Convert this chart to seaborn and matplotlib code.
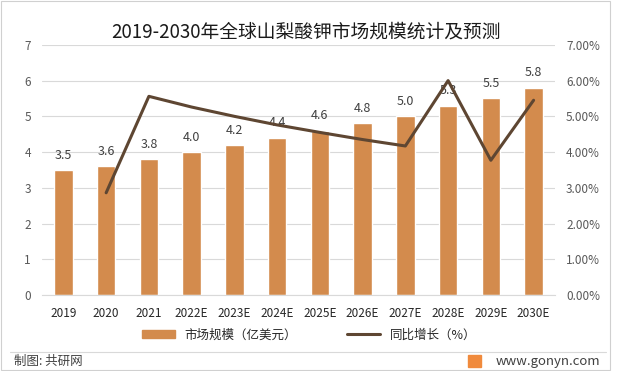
import numpy as np
import matplotlib.pyplot as plt
import matplotlib.patches as mpatches
from matplotlib.lines import Line2D
from matplotlib.ticker import PercentFormatter
import pandas as pd
import seaborn as sns

years = ["2019", "2020", "2021", "2022E", "2023E", "2024E", "2025E",
         "2026E", "2027E", "2028E", "2029E", "2030E"]
market = [3.5, 3.6, 3.8, 4.0, 4.2, 4.4, 4.6, 4.8, 5.0, 5.3, 5.5, 5.8]
growth_years = years[1:]
growth = [2.86, 5.56, 5.26, 5.00, 4.76, 4.55, 4.35, 4.17, 6.00, 3.77, 5.45]

bar_color = "#D38B4D"
line_color = "#5E4632"
txt = "#595959"

sns.set_style("white")
plt.rcParams["font.family"] = ["Noto Sans CJK SC", "DejaVu Sans"]

df = pd.DataFrame({"year": years, "market": market})
gdf = pd.DataFrame({"pos": [years.index(y) for y in growth_years], "growth": growth})

fig = plt.figure(figsize=(6.18, 3.71), dpi=100)
ax = fig.add_axes([0.068, 0.205, 0.83, 0.674])

sns.barplot(data=df, x="year", y="market", color=bar_color, width=0.43,
            saturation=1, ax=ax)
ax.set_ylim(0, 7)
ax.set_xlim(-0.5, len(years) - 0.5)
ax.set_yticks(range(0, 8))
ax.yaxis.grid(True, color="#D9D9D9", lw=0.8)
ax.set_axisbelow(True)
ax.set_xlabel("")
ax.set_ylabel("")
for s in ax.spines.values():
    s.set_visible(False)
ax.spines["bottom"].set_visible(True)
ax.spines["bottom"].set_color("#D9D9D9")
ax.tick_params(axis="both", length=0, labelsize=8.5, labelcolor=txt, pad=8)
ax.tick_params(axis="x", labelcolor="#262626", pad=9)
for p, v in zip(ax.patches, market):
    ax.annotate(f"{v:.1f}", (p.get_x() + p.get_width() / 2, v),
                xytext=(0, 6), textcoords="offset points",
                ha="center", va="bottom", fontsize=9, color="#404040")

ax2 = ax.twinx()
sns.lineplot(data=gdf, x="pos", y="growth", color=line_color, lw=2.2, ax=ax2)
ax2.set_ylim(0, 7)
ax2.set_yticks(range(0, 8))
ax2.yaxis.set_major_formatter(PercentFormatter(decimals=2))
ax2.set_xlabel("")
ax2.set_ylabel("")
for s in ax2.spines.values():
    s.set_visible(False)
ax2.tick_params(axis="y", length=0, labelsize=8.5, labelcolor=txt, pad=8)

fig.text(0.495, 0.913, "2019-2030年全球山梨酸钾市场规模统计及预测",
         ha="center", va="center", fontsize=13.5, color="#1a1a1a")

handles = [mpatches.Patch(color=bar_color, label="市场规模（亿美元）"),
           Line2D([], [], color=line_color, lw=2.2, label="同比增长（%）")]
fig.legend(handles=handles, loc="center", bbox_to_anchor=(0.5, 0.097),
           ncol=2, frameon=False, fontsize=9, handlelength=2.6,
           handleheight=0.55, columnspacing=4, labelcolor="#262626")

fig.add_artist(Line2D([0.016, 0.98], [0.05, 0.05], color="#D9D9D9", lw=0.8))
fig.text(0.022, 0.025, "制图: 共研网", fontsize=9, color="#404040", va="center")
fig.text(0.972, 0.025, "www.gonyn.com", fontsize=9.5, color="#404040",
         va="center", ha="right")
fig.add_artist(mpatches.Rectangle((0.758, 0.01), 0.02, 0.033, color="#F08A3C",
                                  transform=fig.transFigure))
fig.add_artist(mpatches.Rectangle((0.002, 0.002), 0.985, 0.996, fill=False,
                                  ec="#D0D0D0", lw=0.8, transform=fig.transFigure))

plt.savefig("out.png", dpi=100)
